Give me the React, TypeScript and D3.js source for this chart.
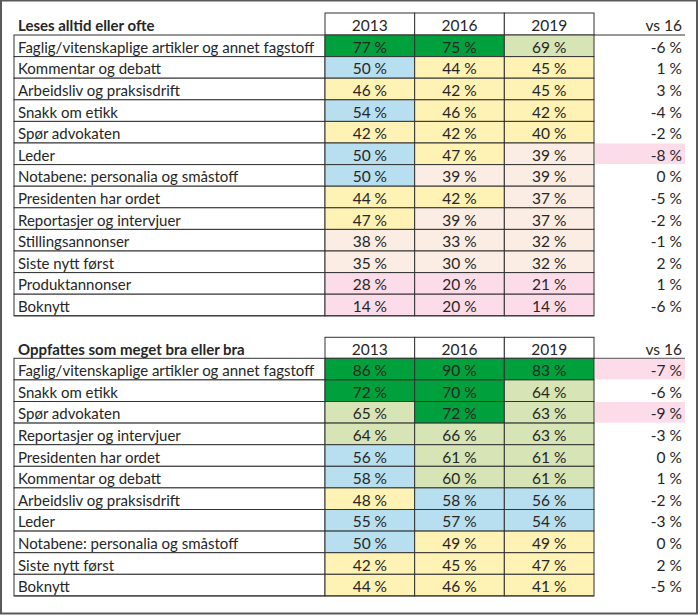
import React from "react";
import * as d3 from "d3";

const years = ["2013", "2016", "2019"];

const title1 = "Leses alltid eller ofte";
const labels1 = [
  "Faglig/vitenskaplige artikler og annet fagstoff",
  "Kommentar og debatt",
  "Arbeidsliv og praksisdrift",
  "Snakk om etikk",
  "Spør advokaten",
  "Leder",
  "Notabene: personalia og småstoff",
  "Presidenten har ordet",
  "Reportasjer og intervjuer",
  "Stillingsannonser",
  "Siste nytt først",
  "Produktannonser",
  "Boknytt",
];
const v2013a = [77, 50, 46, 54, 42, 50, 50, 44, 47, 38, 35, 28, 14];
const v2016a = [75, 44, 42, 46, 42, 47, 39, 42, 39, 33, 30, 20, 20];
const v2019a = [69, 45, 45, 42, 40, 39, 39, 37, 37, 32, 32, 21, 14];
const vs16a = [-6, 1, 3, -4, -2, -8, 0, -5, -2, -1, 2, 1, -6];

const title2 = "Oppfattes som meget bra eller bra";
const labels2 = [
  "Faglig/vitenskaplige artikler og annet fagstoff",
  "Snakk om etikk",
  "Spør advokaten",
  "Reportasjer og intervjuer",
  "Presidenten har ordet",
  "Kommentar og debatt",
  "Arbeidsliv og praksisdrift",
  "Leder",
  "Notabene: personalia og småstoff",
  "Siste nytt først",
  "Boknytt",
];
const v2013b = [86, 72, 65, 64, 56, 58, 48, 55, 50, 42, 44];
const v2016b = [90, 70, 72, 66, 61, 60, 58, 57, 49, 45, 46];
const v2019b = [83, 64, 63, 63, 61, 61, 56, 54, 49, 47, 41];
const vs16b = [-7, -6, -9, -3, 0, 1, -2, -3, 0, 2, -5];

const vsHeader = "vs 16";

const cellColor = d3
  .scaleThreshold<number, string>()
  .domain([30, 40, 50, 60, 70])
  .range(["#fddcea", "#fbede4", "#fef2b4", "#b8dff0", "#d7e5b6", "#00a03c"]);

const diffColor = d3
  .scaleThreshold<number, string>()
  .domain([-6.5])
  .range(["#fddcea", "none"]);

const FONT = "Lato, 'Open Sans', sans-serif";
const TEXT = "#262626";
const LINE = "#333";

const labelX0 = 14;
const colX = d3.scaleBand<string>().domain(years).range([325, 594]).padding(0);
const vsX1 = 685;
const rowH = 21.6;

type TableProps = {
  title: string;
  labels: string[];
  a: number[];
  b: number[];
  c: number[];
  diff: number[];
  top: number;
  headerBottom: number;
};

function Table({ title, labels, a, b, c, diff, top, headerBottom }: TableProps) {
  const n = labels.length;
  const rowY = d3
    .scaleBand<number>()
    .domain(d3.range(n))
    .range([headerBottom, headerBottom + n * rowH])
    .padding(0);
  const cols = [a, b, c];
  const fs = 15.5;
  const lfs = 15;
  const bottom = headerBottom + n * rowH;
  const headCy = (top + headerBottom) / 2;
  return (
    <g fontFamily={FONT} fill={TEXT}>
      <text x={18} y={headCy + 1} dominantBaseline="central" fontWeight="bold" fontSize={15}>
        {title}
      </text>
      {years.map((yr) => (
        <g key={yr}>
          <rect x={colX(yr)} y={top} width={colX.bandwidth()} height={headerBottom - top} fill="#fff" stroke={LINE} strokeWidth={1} />
          <text x={colX(yr)! + colX.bandwidth() / 2} y={headCy + 1} dominantBaseline="central" textAnchor="middle" fontSize={fs}>
            {yr}
          </text>
        </g>
      ))}
      <text x={vsX1 - 3} y={headCy + 1} dominantBaseline="central" textAnchor="end" fontSize={fs}>
        {vsHeader}
      </text>
      <line x1={594} x2={vsX1} y1={headerBottom} y2={headerBottom} stroke={LINE} strokeWidth={1} />
      {labels.map((lab, i) => {
        const y = rowY(i)!;
        const cy = y + rowH / 2 + 1;
        const dc = diffColor(diff[i]);
        return (
          <g key={i}>
            <rect x={labelX0} y={y} width={colX(years[0])! - labelX0} height={rowH} fill="#fff" stroke={LINE} strokeWidth={1} />
            <text x={18} y={cy} dominantBaseline="central" fontSize={lfs}>
              {lab}
            </text>
            {years.map((yr, j) => (
              <g key={yr}>
                <rect x={colX(yr)} y={y} width={colX.bandwidth()} height={rowH} fill={cellColor(cols[j][i])} stroke={LINE} strokeWidth={1} />
                <text x={colX(yr)! + colX.bandwidth() / 2} y={cy} dominantBaseline="central" textAnchor="middle" fontSize={fs}>
                  {cols[j][i] + " %"}
                </text>
              </g>
            ))}
            {dc !== "none" && (
              <rect x={595} y={y + 0.5} width={vsX1 - 595} height={rowH - 1} fill={dc} />
            )}
            <text x={vsX1 - 3} y={cy} dominantBaseline="central" textAnchor="end" fontSize={fs}>
              {diff[i] + " %"}
            </text>
          </g>
        );
      })}
      <line x1={labelX0} x2={594} y1={bottom} y2={bottom} stroke={LINE} strokeWidth={1} />
    </g>
  );
}

export default function App() {
  return (
    <svg width={700} height={616} style={{ position: "absolute", left: 0, top: 0 }}>
      <rect x={0} y={0} width={700} height={616} fill="#fff" />
      <Table title={title1} labels={labels1} a={v2013a} b={v2016a} c={v2019a} diff={vs16a} top={13} headerBottom={35} />
      <Table title={title2} labels={labels2} a={v2013b} b={v2016b} c={v2019b} diff={vs16b} top={337.3} headerBottom={358.3} />
      <rect x={1} y={0.5} width={696} height={613} fill="none" stroke="#5a5a5a" strokeWidth={2} />
    </svg>
  );
}
